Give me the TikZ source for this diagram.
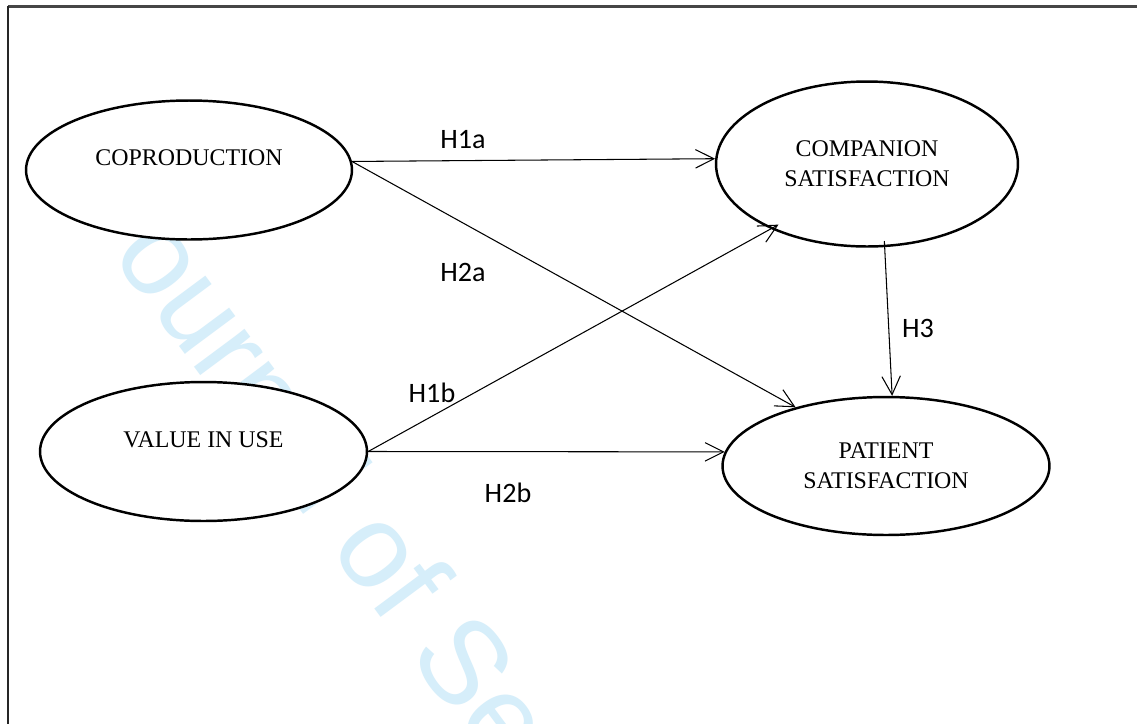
\documentclass[tikz,border=0pt]{standalone}
\usepackage{fontspec}
\setmainfont{Liberation Serif}
\newfontfamily\lblfont{Carlito}
\newfontfamily\wmfont{Liberation Sans}
\usetikzlibrary{shapes.geometric,arrows.meta}
\definecolor{wmcol}{RGB}{214,238,250}
\begin{document}
\begin{tikzpicture}[x=0.02cm,y=-0.02cm,
  ell/.style={ellipse,draw=black,fill=white,line width=1.4pt,inner sep=0pt,
    font=\fontsize{13.6}{17}\selectfont,align=center},
  conn/.style={line width=0.6pt,-{Straight Barb[length=10.5pt,width=10.5pt,line width=0.6pt]}},
  lbl/.style={font=\lblfont\fontsize{16}{19}\selectfont,inner sep=0pt}]
\useasboundingbox (0,0) rectangle (1137,724);
\clip (0,0) rectangle (1137,724);
\fill[white] (0,0) rectangle (1137,724);
% watermark
\node[text=wmcol, font=\wmfont\fontsize{68}{80}\selectfont, anchor=base west,
  rotate=-53.4, inner sep=0pt] (wm) at (110.5,254) {\llap{J\kern12pt}ournal of Se};
% frame
\draw[gray!55!black, line width=1.7pt] (8,6.5) -- (1137,6.5);
\draw[gray!30!black, line width=1.1pt] (8.3,6) -- (8.3,724);
% ellipses
\node[ell, minimum width=6.52cm, minimum height=2.78cm, text depth=13.6pt] (cop) at (189,170) {COPRODUCTION};
\node[ell, minimum width=6.04cm, minimum height=3.3cm] (comp) at (867,164) {COMPANION\\SATISFACTION};
\node[ell, minimum width=6.54cm, minimum height=2.76cm] (pat) at (886,466) {PATIENT\\SATISFACTION};
\node[ell, minimum width=6.54cm, minimum height=2.78cm, text depth=13pt] (val) at (203.5,451.5) {VALUE IN USE};
% connectors
\draw[conn] (cop.3.5) -- (comp.178.5);
\draw[conn] (cop.3.5) -- (pat.147.5);
\draw[conn, shorten >=-5pt] (val.east) -- (comp.214.8);
\draw[conn] (val.east) -- (pat.175.5);
\draw[conn, shorten <=-3.5pt] (comp.282.8) -- (pat.85.2);
% labels
\node[lbl] (h1a) at (463,140) {H1a};
\node[lbl] (h2a) at (463,272) {H2a};
\node[lbl] (h1b) at (432,393) {H1b};
\node[lbl] (h2b) at (508,493) {H2b};
\node[lbl] (h3) at (918,328) {H3};
\end{tikzpicture}
\end{document}
